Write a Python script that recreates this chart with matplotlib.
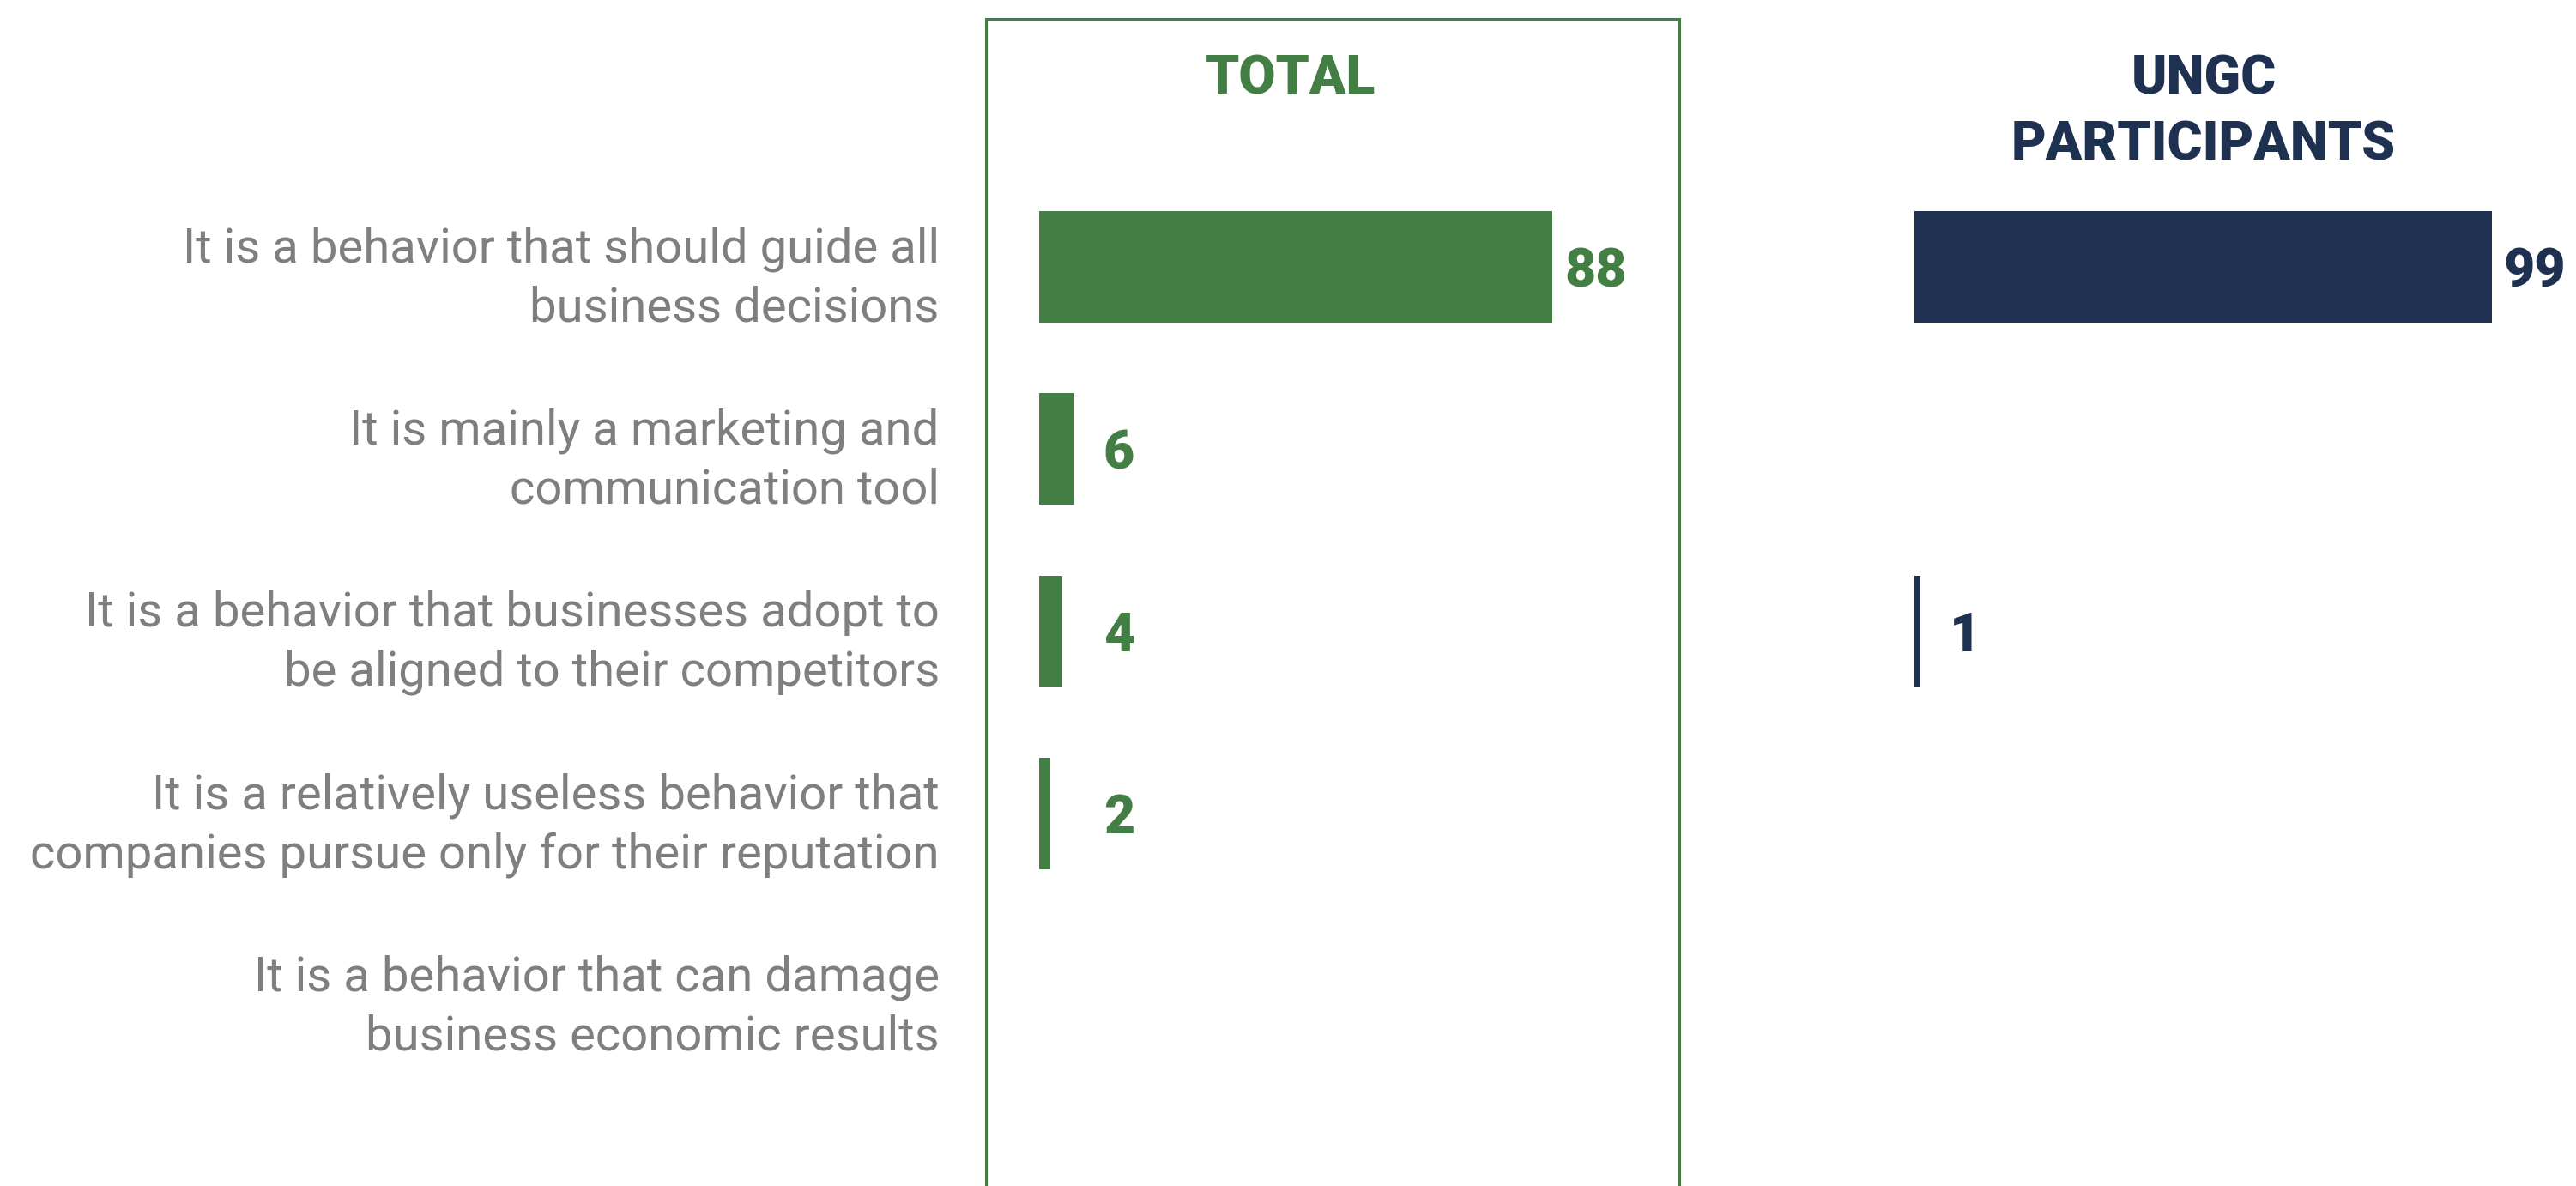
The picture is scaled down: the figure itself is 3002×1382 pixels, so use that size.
import matplotlib.pyplot as plt
import numpy as np

# Données
reponses = [
    'It is a behavior that should guide all\nbusiness decisions',
    'It is mainly a marketing and\ncommunication tool',
    'It is a behavior that businesses adopt to\nbe aligned to their competitors',
    'It is a relatively useless behavior that\ncompanies pursue only for their reputation',
    'It is a behavior that can damage\nbusiness economic results',
]
total = [88, 6, 4, 2, 0]
ungc = [99, 0, 1, 0, 0]

VERT = '#437f45'
BLEU = '#1f3150'
GRIS = '#7f7f7f'

W, H = 3002, 1382
fig = plt.figure(figsize=(W / 100, H / 100), dpi=100)

# Axes en pixels : la boite TOTAL va de x=1149 a 1957, du haut (y=22) au bas de l'image
ax1 = fig.add_axes([1149 / W, 0, 808 / W, 1360 / H])
ax2 = fig.add_axes([2169 / W, 0, 808 / W, 1360 / H])

y = np.arange(len(reponses))
for ax, valeurs, couleur, plancher in [(ax1, total, VERT, 9), (ax2, ungc, BLEU, 4)]:
    ax.barh(y, valeurs, height=0.61, color=couleur)
    for yi, v in zip(y, valeurs):
        if v > 0:
            ax.text(max(v, plancher) + 2, yi, str(v), color=couleur, fontsize=45,
                    fontweight='heavy', family='Roboto', va='center_baseline', ha='left',
                    clip_on=False)
    ax.set_xlim(-9.1, 109.7)
    ax.set_ylim(5.045, -1.361)
    ax.set_xticks([])
    ax.tick_params(length=0)
    for cote in ['bottom', 'left', 'right', 'top']:
        ax.spines[cote].set_visible(False)

# Boite autour de la colonne TOTAL
for cote in ['left', 'right', 'top']:
    ax1.spines[cote].set_visible(True)
    ax1.spines[cote].set_color(VERT)
    ax1.spines[cote].set_linewidth(2.2)

# Libellés des réponses
ax1.set_yticks(y)
ax1.set_yticklabels(reponses, fontsize=40.5, color=GRIS, family='Roboto', fontweight='normal',
                    linespacing=1.37)
ax1.tick_params(axis='y', pad=39)
ax2.set_yticks([])

# Titres des colonnes
ax1.text(0.44, 0.953, 'TOTAL', transform=ax1.transAxes, color=VERT, fontsize=45,
         fontweight='heavy', family='Roboto', ha='center', va='center_baseline')
ax2.text(0.494, 0.953, 'UNGC', transform=ax2.transAxes, color=BLEU, fontsize=45,
         fontweight='heavy', family='Roboto', ha='center', va='center_baseline')
ax2.text(0.494, 0.896, 'PARTICIPANTS', transform=ax2.transAxes, color=BLEU, fontsize=45,
         fontweight='heavy', family='Roboto', ha='center', va='center_baseline')

plt.savefig('out.png', dpi=100)
plt.close()
